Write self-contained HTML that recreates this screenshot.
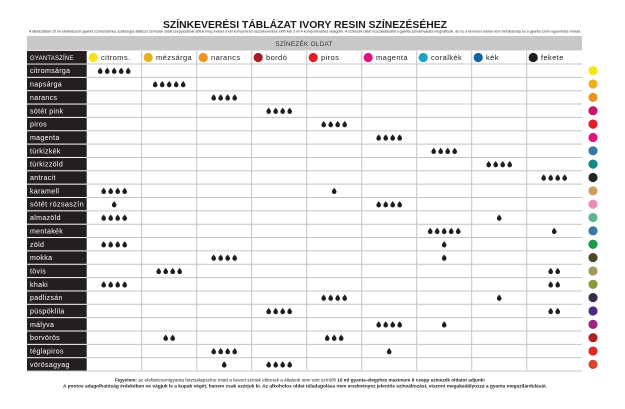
<!DOCTYPE html>
<html><head><meta charset="utf-8"><style>
html,body{margin:0;padding:0;background:#fff;}
svg{display:block;}
text{font-family:"Liberation Sans",sans-serif;}
.lb{fill:#fff;font-size:7px;letter-spacing:0.35px;}
.hd{fill:#222;font-size:7.5px;letter-spacing:0.4px;}
</style></head><body>
<svg width="625" height="409" viewBox="0 0 625 409" xmlns="http://www.w3.org/2000/svg">
<defs>
<path id="d" d="M0,-3.1 C0.7,-2 2.3,-0.7 2.3,0.9 A2.3,2.3 0 0 1 -2.3,0.9 C-2.3,-0.7 -0.7,-2 0,-3.1Z" fill="#1e1e1e"/>
</defs>
<rect width="625" height="409" fill="#fff"/>
<text x="305" y="28" text-anchor="middle" font-size="10" font-weight="bold" fill="#1a1a1a" textLength="284" lengthAdjust="spacingAndGlyphs">SZÍNKEVERÉSI TÁBLÁZAT IVORY RESIN SZÍNEZÉSÉHEZ</text>
<text x="29" y="32.3" font-size="4" fill="#333" textLength="552" lengthAdjust="spacingAndGlyphs">A táblázatban 10 ml elefántcsont gyanta színezéséhez szükséges átlátszó színezék oldat cseppszámát adtuk meg melyet a két komponens összekeverése előtt kell 3 ml A komponenshez adagolni. A színezék oldat hozzáadásától a gyanta színárnyalata megváltozik, de ez a keverési arányt nem befolyásolja és a gyanta színe egyenletes marad.</text>
<rect x="27" y="36" width="555" height="14.5" fill="#c8c8c8"/>
<text x="304" y="45.8" text-anchor="middle" font-size="6.3" fill="#333" letter-spacing="0.3">SZÍNEZÉK OLDAT</text>
<!-- header row -->
<rect x="27" y="51" width="59.7" height="12.6" fill="#231f20"/>
<text x="30" y="59.8" font-size="6" fill="#fff" letter-spacing="0.2">GYANTASZÍNE</text>
<g>
<circle cx="93.2" cy="57.5" r="4.6" fill="#f7e11b"/><text class="hd" x="101" y="60.2">citroms.</text>
<circle cx="148.2" cy="57.5" r="4.6" fill="#e9b120"/><text class="hd" x="156" y="60.2">mézsárga</text>
<circle cx="203.2" cy="57.5" r="4.6" fill="#ec941f"/><text class="hd" x="211" y="60.2">narancs</text>
<circle cx="258.2" cy="57.5" r="4.6" fill="#a81e24"/><text class="hd" x="266" y="60.2">bordó</text>
<circle cx="313.2" cy="57.5" r="4.6" fill="#e31e25"/><text class="hd" x="321" y="60.2">piros</text>
<circle cx="368.2" cy="57.5" r="4.6" fill="#e0127e"/><text class="hd" x="376" y="60.2">magenta</text>
<circle cx="423.2" cy="57.5" r="4.6" fill="#17a5c3"/><text class="hd" x="431" y="60.2">coralkék</text>
<circle cx="478.2" cy="57.5" r="4.6" fill="#0e63a7"/><text class="hd" x="486" y="60.2">kék</text>
<circle cx="533.2" cy="57.5" r="4.6" fill="#1e1e1e"/><text class="hd" x="541" y="60.2">fekete</text>
</g>
<!-- label column -->
<g fill="#231f20">
<rect x="27" y="64.5" width="59.7" height="12.35"/>
<rect x="27" y="77.85" width="59.7" height="12.35"/>
<rect x="27" y="91.2" width="59.7" height="12.35"/>
<rect x="27" y="104.55" width="59.7" height="12.35"/>
<rect x="27" y="117.9" width="59.7" height="12.35"/>
<rect x="27" y="131.25" width="59.7" height="12.35"/>
<rect x="27" y="144.6" width="59.7" height="12.35"/>
<rect x="27" y="157.95" width="59.7" height="12.35"/>
<rect x="27" y="171.3" width="59.7" height="12.35"/>
<rect x="27" y="184.65" width="59.7" height="12.35"/>
<rect x="27" y="198" width="59.7" height="12.35"/>
<rect x="27" y="211.35" width="59.7" height="12.35"/>
<rect x="27" y="224.7" width="59.7" height="12.35"/>
<rect x="27" y="238.05" width="59.7" height="12.35"/>
<rect x="27" y="251.4" width="59.7" height="12.35"/>
<rect x="27" y="264.75" width="59.7" height="12.35"/>
<rect x="27" y="278.1" width="59.7" height="12.35"/>
<rect x="27" y="291.45" width="59.7" height="12.35"/>
<rect x="27" y="304.8" width="59.7" height="12.35"/>
<rect x="27" y="318.15" width="59.7" height="12.35"/>
<rect x="27" y="331.5" width="59.7" height="12.35"/>
<rect x="27" y="344.85" width="59.7" height="12.35"/>
<rect x="27" y="358.2" width="59.7" height="12.35"/>
</g>
<g class="lb">
<text class="lb" x="30" y="73.2">citromsárga</text>
<text class="lb" x="30" y="86.55">napsárga</text>
<text class="lb" x="30" y="99.9">narancs</text>
<text class="lb" x="30" y="113.25">sötét pink</text>
<text class="lb" x="30" y="126.6">piros</text>
<text class="lb" x="30" y="139.95">magenta</text>
<text class="lb" x="30" y="153.3">türkizkék</text>
<text class="lb" x="30" y="166.65">türkizzöld</text>
<text class="lb" x="30" y="180">antracit</text>
<text class="lb" x="30" y="193.35">karamell</text>
<text class="lb" x="30" y="206.7" textLength="54" lengthAdjust="spacingAndGlyphs">sötét rózsaszín</text>
<text class="lb" x="30" y="220.05">almazöld</text>
<text class="lb" x="30" y="233.4">mentakék</text>
<text class="lb" x="30" y="246.75">zöld</text>
<text class="lb" x="30" y="260.1">mokka</text>
<text class="lb" x="30" y="273.45">tövis</text>
<text class="lb" x="30" y="286.8">khaki</text>
<text class="lb" x="30" y="300.15">padlizsán</text>
<text class="lb" x="30" y="313.5">püspöklila</text>
<text class="lb" x="30" y="326.85">mályva</text>
<text class="lb" x="30" y="340.2">borvörös</text>
<text class="lb" x="30" y="353.55">téglapiros</text>
<text class="lb" x="30" y="366.9">vörösagyag</text>
</g>
<!-- grid -->
<g stroke="#c4c4c4" stroke-width="1">
<line x1="86.7" y1="64" x2="582" y2="64"/>
<line x1="86.7" y1="77.35" x2="582" y2="77.35"/>
<line x1="86.7" y1="90.7" x2="582" y2="90.7"/>
<line x1="86.7" y1="104.05" x2="582" y2="104.05"/>
<line x1="86.7" y1="117.4" x2="582" y2="117.4"/>
<line x1="86.7" y1="130.75" x2="582" y2="130.75"/>
<line x1="86.7" y1="144.1" x2="582" y2="144.1"/>
<line x1="86.7" y1="157.45" x2="582" y2="157.45"/>
<line x1="86.7" y1="170.8" x2="582" y2="170.8"/>
<line x1="86.7" y1="184.15" x2="582" y2="184.15"/>
<line x1="86.7" y1="197.5" x2="582" y2="197.5"/>
<line x1="86.7" y1="210.85" x2="582" y2="210.85"/>
<line x1="86.7" y1="224.2" x2="582" y2="224.2"/>
<line x1="86.7" y1="237.55" x2="582" y2="237.55"/>
<line x1="86.7" y1="250.9" x2="582" y2="250.9"/>
<line x1="86.7" y1="264.25" x2="582" y2="264.25"/>
<line x1="86.7" y1="277.6" x2="582" y2="277.6"/>
<line x1="86.7" y1="290.95" x2="582" y2="290.95"/>
<line x1="86.7" y1="304.3" x2="582" y2="304.3"/>
<line x1="86.7" y1="317.65" x2="582" y2="317.65"/>
<line x1="86.7" y1="331" x2="582" y2="331"/>
<line x1="86.7" y1="344.35" x2="582" y2="344.35"/>
<line x1="86.7" y1="357.7" x2="582" y2="357.7"/>
<line x1="27" y1="371.05" x2="582" y2="371.05"/>
<line x1="141.7" y1="51" x2="141.7" y2="371"/>
<line x1="196.7" y1="51" x2="196.7" y2="371"/>
<line x1="251.7" y1="51" x2="251.7" y2="371"/>
<line x1="306.7" y1="51" x2="306.7" y2="371"/>
<line x1="361.7" y1="51" x2="361.7" y2="371"/>
<line x1="416.7" y1="51" x2="416.7" y2="371"/>
<line x1="471.7" y1="51" x2="471.7" y2="371"/>
<line x1="526.7" y1="51" x2="526.7" y2="371"/>
</g>
<!-- drops -->
<g>
<use href="#d" x="100.2" y="70.7"/><use href="#d" x="107.2" y="70.7"/><use href="#d" x="114.2" y="70.7"/><use href="#d" x="121.2" y="70.7"/><use href="#d" x="128.2" y="70.7"/>
<use href="#d" x="155.2" y="84.05"/><use href="#d" x="162.2" y="84.05"/><use href="#d" x="169.2" y="84.05"/><use href="#d" x="176.2" y="84.05"/><use href="#d" x="183.2" y="84.05"/>
<use href="#d" x="213.7" y="97.4"/><use href="#d" x="220.7" y="97.4"/><use href="#d" x="227.7" y="97.4"/><use href="#d" x="234.7" y="97.4"/>
<use href="#d" x="268.7" y="110.75"/><use href="#d" x="275.7" y="110.75"/><use href="#d" x="282.7" y="110.75"/><use href="#d" x="289.7" y="110.75"/>
<use href="#d" x="323.7" y="124.1"/><use href="#d" x="330.7" y="124.1"/><use href="#d" x="337.7" y="124.1"/><use href="#d" x="344.7" y="124.1"/>
<use href="#d" x="378.7" y="137.45"/><use href="#d" x="385.7" y="137.45"/><use href="#d" x="392.7" y="137.45"/><use href="#d" x="399.7" y="137.45"/>
<use href="#d" x="433.7" y="150.8"/><use href="#d" x="440.7" y="150.8"/><use href="#d" x="447.7" y="150.8"/><use href="#d" x="454.7" y="150.8"/>
<use href="#d" x="488.7" y="164.15"/><use href="#d" x="495.7" y="164.15"/><use href="#d" x="502.7" y="164.15"/><use href="#d" x="509.7" y="164.15"/>
<use href="#d" x="543.7" y="177.5"/><use href="#d" x="550.7" y="177.5"/><use href="#d" x="557.7" y="177.5"/><use href="#d" x="564.7" y="177.5"/>
<use href="#d" x="103.7" y="190.85"/><use href="#d" x="110.7" y="190.85"/><use href="#d" x="117.7" y="190.85"/><use href="#d" x="124.7" y="190.85"/><use href="#d" x="334.2" y="190.85"/>
<use href="#d" x="114.2" y="204.2"/><use href="#d" x="378.7" y="204.2"/><use href="#d" x="385.7" y="204.2"/><use href="#d" x="392.7" y="204.2"/><use href="#d" x="399.7" y="204.2"/>
<use href="#d" x="103.7" y="217.55"/><use href="#d" x="110.7" y="217.55"/><use href="#d" x="117.7" y="217.55"/><use href="#d" x="124.7" y="217.55"/><use href="#d" x="499.2" y="217.55"/>
<use href="#d" x="430.2" y="230.9"/><use href="#d" x="437.2" y="230.9"/><use href="#d" x="444.2" y="230.9"/><use href="#d" x="451.2" y="230.9"/><use href="#d" x="458.2" y="230.9"/><use href="#d" x="554.2" y="230.9"/>
<use href="#d" x="103.7" y="244.25"/><use href="#d" x="110.7" y="244.25"/><use href="#d" x="117.7" y="244.25"/><use href="#d" x="124.7" y="244.25"/><use href="#d" x="444.2" y="244.25"/>
<use href="#d" x="213.7" y="257.6"/><use href="#d" x="220.7" y="257.6"/><use href="#d" x="227.7" y="257.6"/><use href="#d" x="234.7" y="257.6"/><use href="#d" x="444.2" y="257.6"/>
<use href="#d" x="158.7" y="270.95"/><use href="#d" x="165.7" y="270.95"/><use href="#d" x="172.7" y="270.95"/><use href="#d" x="179.7" y="270.95"/><use href="#d" x="550.7" y="270.95"/><use href="#d" x="557.7" y="270.95"/>
<use href="#d" x="103.7" y="284.3"/><use href="#d" x="110.7" y="284.3"/><use href="#d" x="117.7" y="284.3"/><use href="#d" x="124.7" y="284.3"/><use href="#d" x="550.7" y="284.3"/><use href="#d" x="557.7" y="284.3"/>
<use href="#d" x="323.7" y="297.65"/><use href="#d" x="330.7" y="297.65"/><use href="#d" x="337.7" y="297.65"/><use href="#d" x="344.7" y="297.65"/><use href="#d" x="499.2" y="297.65"/>
<use href="#d" x="268.7" y="311"/><use href="#d" x="275.7" y="311"/><use href="#d" x="282.7" y="311"/><use href="#d" x="289.7" y="311"/><use href="#d" x="550.7" y="311"/><use href="#d" x="557.7" y="311"/>
<use href="#d" x="378.7" y="324.35"/><use href="#d" x="385.7" y="324.35"/><use href="#d" x="392.7" y="324.35"/><use href="#d" x="399.7" y="324.35"/><use href="#d" x="444.2" y="324.35"/>
<use href="#d" x="165.7" y="337.7"/><use href="#d" x="172.7" y="337.7"/><use href="#d" x="327.2" y="337.7"/><use href="#d" x="334.2" y="337.7"/><use href="#d" x="341.2" y="337.7"/>
<use href="#d" x="213.7" y="351.05"/><use href="#d" x="220.7" y="351.05"/><use href="#d" x="227.7" y="351.05"/><use href="#d" x="234.7" y="351.05"/><use href="#d" x="389.2" y="351.05"/>
<use href="#d" x="224.2" y="364.4"/><use href="#d" x="268.7" y="364.4"/><use href="#d" x="275.7" y="364.4"/><use href="#d" x="282.7" y="364.4"/><use href="#d" x="289.7" y="364.4"/>
</g>
<!-- right dots -->
<g>
<circle cx="593" cy="70.7" r="4.6" fill="#f5e51b"/>
<circle cx="593" cy="84.05" r="4.6" fill="#eab020"/>
<circle cx="593" cy="97.4" r="4.6" fill="#ec9420"/>
<circle cx="593" cy="110.75" r="4.6" fill="#c4186c"/>
<circle cx="593" cy="124.1" r="4.6" fill="#e11d27"/>
<circle cx="593" cy="137.45" r="4.6" fill="#e1137f"/>
<circle cx="593" cy="150.8" r="4.6" fill="#3b77a0"/>
<circle cx="593" cy="164.15" r="4.6" fill="#118a84"/>
<circle cx="593" cy="177.5" r="4.6" fill="#252525"/>
<circle cx="593" cy="190.85" r="4.6" fill="#c99f62"/>
<circle cx="593" cy="204.2" r="4.6" fill="#e890b9"/>
<circle cx="593" cy="217.55" r="4.6" fill="#5db589"/>
<circle cx="593" cy="230.9" r="4.6" fill="#3c79a1"/>
<circle cx="593" cy="244.25" r="4.6" fill="#1b9a47"/>
<circle cx="593" cy="257.6" r="4.6" fill="#4b482b"/>
<circle cx="593" cy="270.95" r="4.6" fill="#a29a5c"/>
<circle cx="593" cy="284.3" r="4.6" fill="#889a3e"/>
<circle cx="593" cy="297.65" r="4.6" fill="#3d2a46"/>
<circle cx="593" cy="311" r="4.6" fill="#4d2a7d"/>
<circle cx="593" cy="324.35" r="4.6" fill="#982683"/>
<circle cx="593" cy="337.7" r="4.6" fill="#ae2127"/>
<circle cx="593" cy="351.05" r="4.6" fill="#da2a25"/>
<circle cx="593" cy="364.4" r="4.6" fill="#d5462e"/>
</g>
<!-- footer -->
<text x="115" y="381.3" font-size="4.3" fill="#222" textLength="370" lengthAdjust="spacingAndGlyphs"><tspan font-weight="bold">Figyelem:</tspan> az elefántcsontgyanta bázisalapszíne miatt a kevert színek eltérnek a általunk sem várt színtől! <tspan font-weight="bold">10 ml gyanta-elegyhez maximum 8 csepp színezék oldatot adjunk!</tspan></text>
<text x="63" y="387.5" font-size="4.3" font-weight="bold" fill="#222" textLength="484" lengthAdjust="spacingAndGlyphs">A pontos adagolhatóság érdekében ne vágjuk le a kupak végét, hanem csak szúrjuk ki.  Az alkoholos oldat túladagolása nem eredményez jelentős színváltozást, viszont megakadályozza a gyanta megszilárdulását.</text>
</svg>
</body></html>
